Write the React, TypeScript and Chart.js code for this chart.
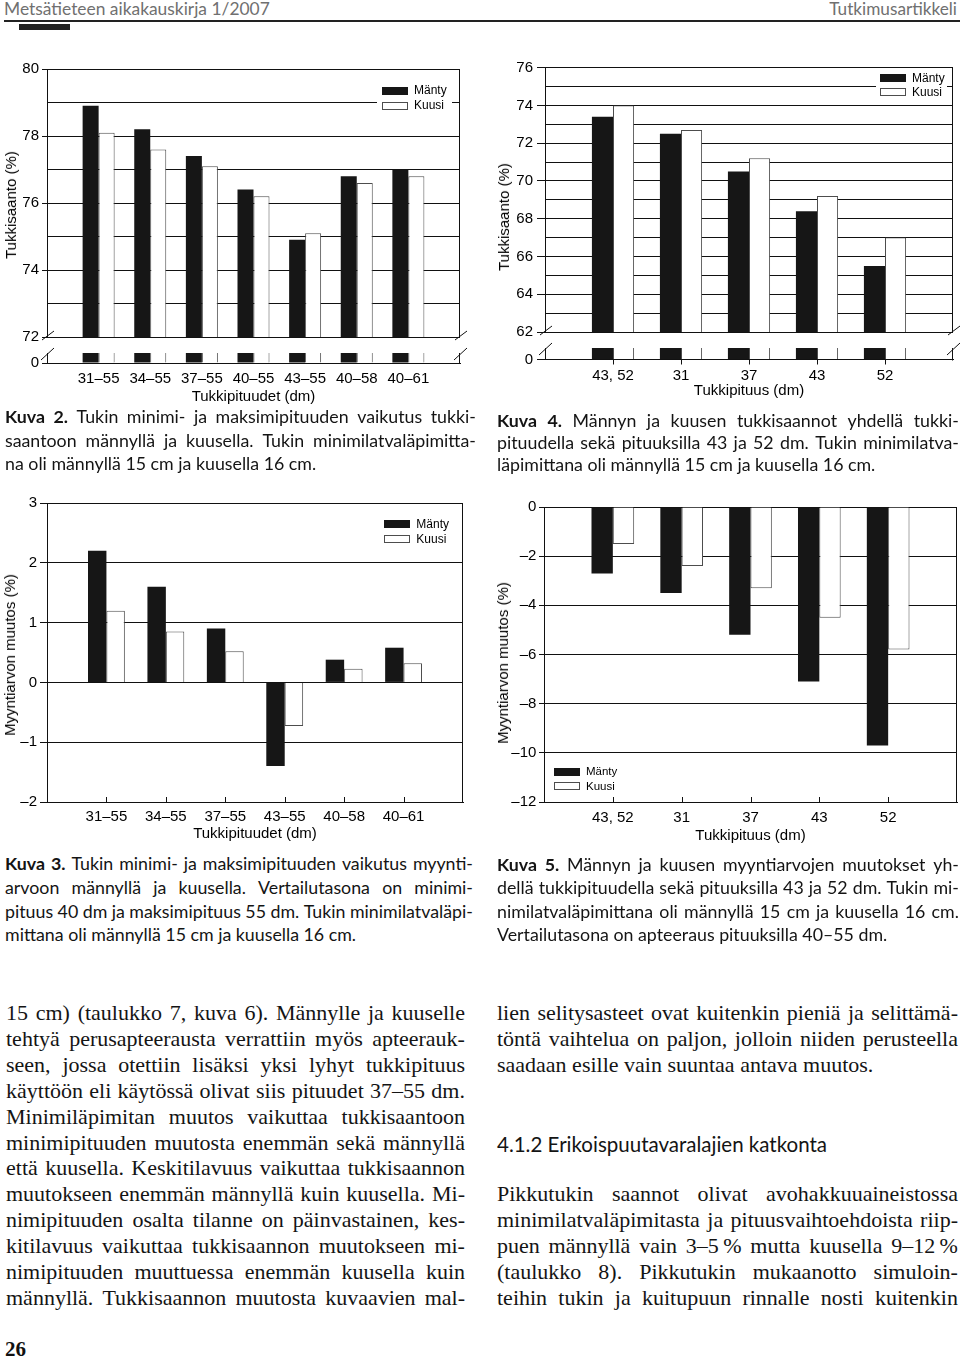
import React, { useEffect, useRef } from 'react';
import { Chart, registerables } from 'chart.js';

Chart.register(...registerables);

// ---------- data ----------
const SERIES_NAMES = ['Mänty', 'Kuusi'];

// Kuva 2 – Tukkisaanto (%) by min–max log length
const kuva2Lengths = ['31–55', '34–55', '37–55', '40–55', '43–55', '40–58', '40–61'];
const kuva2Manty = [78.9, 78.2, 77.4, 76.4, 74.9, 76.8, 77.0];
const kuva2Kuusi = [78.1, 77.6, 77.1, 76.2, 75.1, 76.6, 76.8];
const kuva2YTicks = [72, 74, 76, 78, 80];

// Kuva 4 – Tukkisaanto (%) by single log length
const kuva4Lengths = ['43, 52', '31', '37', '43', '52'];
const kuva4Manty = [73.4, 72.5, 70.5, 68.4, 65.5];
const kuva4Kuusi = [74.0, 72.7, 71.2, 69.2, 67.0];
const kuva4YTicks = [62, 64, 66, 68, 70, 72, 74, 76];

// Kuva 3 – Myyntiarvon muutos (%)
const kuva3Lengths = ['31–55', '34–55', '37–55', '43–55', '40–58', '40–61'];
const kuva3Manty = [2.2, 1.6, 0.9, -1.4, 0.38, 0.58];
const kuva3Kuusi = [1.2, 0.85, 0.52, -0.73, 0.23, 0.32];
const kuva3YTicks = [-2, -1, 0, 1, 2, 3];

// Kuva 5 – Myyntiarvon muutos (%)
const kuva5Lengths = ['43, 52', '31', '37', '43', '52'];
const kuva5Manty = [-2.7, -3.5, -5.2, -7.1, -9.7];
const kuva5Kuusi = [-1.5, -2.4, -3.3, -4.5, -5.8];
const kuva5YTicks = [-12, -10, -8, -6, -4, -2, 0];

const brokenAxisZero = [0];

// ---------- styles ----------
const MANTY_FILL = '#161616';
const KUUSI_FILL = '#ffffff';
const KUUSI_EDGE = '#4d4d4d';
const LINE = '#111111';
const FONT_SANS = '"Liberation Sans", Arial, sans-serif';
const FONT_HUM = 'Lato, "Noto Sans", sans-serif';
const FONT_SERIF = '"Liberation Serif", "Times New Roman", serif';

const fmtTick = (v: number) => (v < 0 ? '–' + Math.abs(v) : String(v));

// ---------- plugins ----------
const boxLegendPlugin = {
  id: 'boxLegend',
  afterDatasetsDraw(chart: any, _args: any, o: any) {
    if (!o || !o.show) return;
    const { ctx, chartArea } = chart;
    const bx = o.anchorX === 'left' ? chartArea.left + o.dx : chartArea.right - o.dx;
    const by = o.anchorY === 'bottom' ? chartArea.bottom - o.dy : chartArea.top + o.dy;
    ctx.save();
    if (o.bg) {
      ctx.fillStyle = '#ffffff';
      ctx.fillRect(bx + o.bg.x, by + o.bg.y, o.bg.w, o.bg.h);
    }
    ctx.font = `${o.size}px ${FONT_SANS}`;
    ctx.textBaseline = 'middle';
    ctx.textAlign = 'left';
    chart.data.datasets.forEach((d: any, i: number) => {
      const cy = by + i * o.rowGap;
      const x0 = Math.round(bx);
      const y0 = Math.round(cy - 4);
      ctx.fillStyle = d.backgroundColor;
      ctx.fillRect(x0, y0, 26, 8);
      if (d.borderWidth) {
        ctx.strokeStyle = d.borderColor;
        ctx.lineWidth = 1;
        ctx.strokeRect(x0 + 0.5, y0 + 0.5, 25, 7);
      }
      ctx.fillStyle = '#000';
      ctx.fillText(d.label, bx + 32, cy + 0.5);
    });
    ctx.restore();
  },
};

const decorPlugin = {
  id: 'decor',
  afterDatasetsDraw(chart: any, _args: any, o: any) {
    if (!o) return;
    const { ctx } = chart;
    const { left, right, top, bottom } = chart.chartArea;
    const R = Math.round(right) - 0.5;
    const B = Math.round(bottom);
    ctx.save();
    ctx.strokeStyle = LINE;
    ctx.lineWidth = 1;
    const seg = (x1: number, y1: number, x2: number, y2: number) => {
      ctx.beginPath();
      ctx.moveTo(x1, y1);
      ctx.lineTo(x2, y2);
      ctx.stroke();
    };
    if (o.right) seg(R, Math.round(top), R, B + 0.5);
    if (o.innerTicks) {
      const xs = chart.scales.x;
      const labels = chart.data.labels;
      xs.ticks.forEach((t: any, i: number) => {
        if (!labels[t.value]) return;
        const px = Math.round(xs.getPixelForTick(i)) + 0.5;
        seg(px, B, px, B - o.innerTicks);
      });
    }
    if (o.breaks === 'bottom') {
      [left, right].forEach((x: number) => seg(x - 5, bottom + 3, x + 7, bottom - 6));
    }
    if (o.breaks === 'top') {
      [left, right].forEach((x: number) => seg(x - 6, top + 7, x + 7, top - 5));
    }
    ctx.restore();
  },
};

// ---------- chart config ----------
type Spec = {
  labels: string[];
  manty: number[];
  kuusi: number[];
  yMin: number;
  yMax: number;
  yStep: number;
  yLabels: number[];
  yWidth: number;
  yTickLen: number;
  yTickPad: number;
  pad: { right: number; top: number; bottom: number };
  strip?: boolean;
  showX: boolean;
  xHeight?: number;
  xTickLen?: number;
  xLabelPad?: number;
  xTitle?: string;
  titlePadBottom?: number;
  legend?: any;
  decor?: any;
};

function buildConfig(s: Spec): any {
  const n = s.labels.length;
  const tickFont = { family: FONT_SANS, size: 15 };
  const isLabelled = (v: number) => s.yLabels.some((l) => Math.abs(l - v) < 1e-9);
  const datasets: any[] = [
    {
      label: SERIES_NAMES[0],
      data: [null, ...s.manty, null],
      backgroundColor: MANTY_FILL,
      borderColor: MANTY_FILL,
      borderWidth: 0,
    },
    {
      label: SERIES_NAMES[1],
      data: [null, ...s.kuusi, null],
      backgroundColor: KUUSI_FILL,
      borderColor: KUUSI_EDGE,
      borderWidth: 1,
    },
  ].map((d) => (s.strip ? { ...d, clip: 0 } : d));

  const x: any = s.showX
    ? {
        type: 'category',
        offset: false,
        afterFit: (sc: any) => {
          sc.height = s.xHeight;
          sc.paddingLeft = 0;
          sc.paddingRight = 0;
        },
        grid: {
          display: true,
          drawOnChartArea: false,
          drawTicks: (s.xTickLen || 0) > 0,
          tickLength: s.xTickLen || 0,
          offset: false,
          color: LINE,
          tickColor: (c: any) => (c.index > 0 && c.index <= n ? LINE : 'rgba(0,0,0,0)'),
        },
        border: { display: true, color: LINE, width: 1 },
        ticks: { autoSkip: false, maxRotation: 0, minRotation: 0, padding: s.xLabelPad, color: '#000', font: tickFont },
        title: {
          display: true,
          text: s.xTitle,
          color: '#000',
          font: tickFont,
          padding: { top: 0, bottom: s.titlePadBottom },
        },
      }
    : { type: 'category', offset: false, display: false, grid: { offset: false } };

  return {
    type: 'bar',
    data: { labels: ['', ...s.labels, ''], datasets },
    options: {
      responsive: false,
      animation: false,
      events: [],
      layout: { padding: { left: 0, right: s.pad.right, top: s.pad.top, bottom: s.pad.bottom } },
      datasets: { bar: { categoryPercentage: 0.62, barPercentage: 1 } },
      plugins: {
        legend: { display: false },
        tooltip: { enabled: false },
        boxLegend: s.legend || { show: false },
        decor: s.decor || {},
      },
      scales: {
        x,
        y: {
          type: 'linear',
          min: s.yMin,
          max: s.yMax,
          beginAtZero: false,
          afterFit: (sc: any) => {
            sc.width = s.yWidth;
            sc.paddingTop = 0;
            sc.paddingBottom = 0;
          },
          ticks: {
            stepSize: s.yStep,
            autoSkip: false,
            padding: s.yTickPad,
            color: '#000',
            font: tickFont,
            callback: (v: any) => (isLabelled(+v) ? fmtTick(+v) : ''),
          },
          grid: {
            display: true,
            drawOnChartArea: !s.strip,
            drawTicks: true,
            tickLength: s.yTickLen,
            color: LINE,
            lineWidth: 1,
            tickColor: (c: any) => (c.tick && isLabelled(c.tick.value) ? LINE : 'rgba(0,0,0,0)'),
          },
          border: { display: true, color: LINE, width: 1 },
        },
      },
    },
    plugins: [boxLegendPlugin, decorPlugin],
  };
}

// ---------- panel specs ----------
const kuva2Main: Spec = {
  labels: kuva2Lengths, manty: kuva2Manty, kuusi: kuva2Kuusi,
  yMin: 72, yMax: 80, yStep: 1, yLabels: kuva2YTicks,
  yWidth: 47, yTickLen: 5, yTickPad: 3,
  pad: { right: 20, top: 9, bottom: 8 },
  showX: false,
  legend: { show: true, anchorX: 'right', dx: 78, anchorY: 'top', dy: 21.5, rowGap: 15, size: 12, bg: { x: -5, y: -8.5, w: 75, h: 30 } },
  decor: { right: true, breaks: 'bottom' },
};
const kuva2Strip: Spec = {
  labels: kuva2Lengths, manty: kuva2Manty, kuusi: kuva2Kuusi,
  yMin: 0, yMax: 1, yStep: 1, yLabels: brokenAxisZero,
  yWidth: 47, yTickLen: 5, yTickPad: 3,
  pad: { right: 20, top: 8, bottom: 0 },
  strip: true,
  showX: true, xHeight: 52, xTickLen: 0, xLabelPad: 7, xTitle: 'Tukkipituudet (dm)', titlePadBottom: 9,
  decor: { right: true, breaks: 'top' },
};
const kuva4Main: Spec = {
  labels: kuva4Lengths, manty: kuva4Manty, kuusi: kuva4Kuusi,
  yMin: 62, yMax: 76, yStep: 1, yLabels: kuva4YTicks,
  yWidth: 65, yTickLen: 8, yTickPad: 4,
  pad: { right: 7, top: 9.7, bottom: 10 },
  showX: false,
  legend: { show: true, anchorX: 'right', dx: 73, anchorY: 'top', dy: 10, rowGap: 14.5, size: 12, bg: { x: -4, y: -7.5, w: 71, h: 29 } },
  decor: { right: true, breaks: 'bottom' },
};
const kuva4Strip: Spec = {
  labels: kuva4Lengths, manty: kuva4Manty, kuusi: kuva4Kuusi,
  yMin: 0, yMax: 1, yStep: 1, yLabels: brokenAxisZero,
  yWidth: 65, yTickLen: 8, yTickPad: 4,
  pad: { right: 7, top: 8, bottom: 0 },
  strip: true,
  showX: true, xHeight: 45.5, xTickLen: 5, xLabelPad: 2.5, xTitle: 'Tukkipituus (dm)', titlePadBottom: 5.3,
  decor: { right: true, breaks: 'top' },
};
const kuva3Panel: Spec = {
  labels: kuva3Lengths, manty: kuva3Manty, kuusi: kuva3Kuusi,
  yMin: -2, yMax: 3, yStep: 1, yLabels: kuva3YTicks,
  yWidth: 47, yTickLen: 7, yTickPad: 3,
  pad: { right: 17, top: 8, bottom: 0 },
  showX: true, xHeight: 43, xTickLen: 0, xLabelPad: 6.3, xTitle: 'Tukkipituudet (dm)', titlePadBottom: 2,
  legend: { show: true, anchorX: 'right', dx: 78.7, anchorY: 'top', dy: 21, rowGap: 14.7, size: 12 },
  decor: { right: true, innerTicks: 5 },
};
const kuva5Panel: Spec = {
  labels: kuva5Lengths, manty: kuva5Manty, kuusi: kuva5Kuusi,
  yMin: -12, yMax: 0, yStep: 2, yLabels: kuva5YTicks,
  yWidth: 64, yTickLen: 5, yTickPad: 2.6,
  pad: { right: 3, top: 12, bottom: 0 },
  showX: true, xHeight: 45, xTickLen: 0, xLabelPad: 7.3, xTitle: 'Tukkipituus (dm)', titlePadBottom: 2,
  legend: { show: true, anchorX: 'left', dx: 10, anchorY: 'bottom', dy: 30.2, rowGap: 14.2, size: 11.5 },
  decor: { right: true, innerTicks: 5 },
};

// ---------- text ----------
type Line = { text: string; bold?: number; justify?: boolean };

const kuva2Caption: Line[] = [
  { text: 'Kuva 2. Tukin minimi- ja maksimipituuden vaikutus tukki-', bold: 2, justify: true },
  { text: 'saantoon männyllä ja kuusella. Tukin minimilatvaläpimitta-', justify: true },
  { text: 'na oli männyllä 15 cm ja kuusella 16 cm.' },
];
const kuva4Caption: Line[] = [
  { text: 'Kuva 4. Männyn ja kuusen tukkisaannot yhdellä tukki-', bold: 2, justify: true },
  { text: 'pituudella sekä pituuksilla 43 ja 52 dm. Tukin minimilatva-', justify: true },
  { text: 'läpimittana oli männyllä 15 cm ja kuusella 16 cm.' },
];
const kuva3Caption: Line[] = [
  { text: 'Kuva 3. Tukin minimi- ja maksimipituuden vaikutus myynti-', bold: 2, justify: true },
  { text: 'arvoon männyllä ja kuusella. Vertailutasona on minimi-', justify: true },
  { text: 'pituus 40 dm ja maksimipituus 55 dm. Tukin minimilatvaläpi-', justify: true },
  { text: 'mittana oli männyllä 15 cm ja kuusella 16 cm.' },
];
const kuva5Caption: Line[] = [
  { text: 'Kuva 5. Männyn ja kuusen myyntiarvojen muutokset yh-', bold: 2, justify: true },
  { text: 'dellä tukkipituudella sekä pituuksilla 43 ja 52 dm. Tukin mi-', justify: true },
  { text: 'nimilatvaläpimittana oli männyllä 15 cm ja kuusella 16 cm.', justify: true },
  { text: 'Vertailutasona on apteeraus pituuksilla 40–55 dm.' },
];
const leftBody: Line[] = [
  { text: '15 cm) (taulukko 7, kuva 6). Männylle ja kuuselle', justify: true },
  { text: 'tehtyä perusapteerausta verrattiin myös apteerauk-', justify: true },
  { text: 'seen, jossa otettiin lisäksi yksi lyhyt tukkipituus', justify: true },
  { text: 'käyttöön eli käytössä olivat siis pituudet 37–55 dm.', justify: true },
  { text: 'Minimiläpimitan muutos vaikuttaa tukkisaantoon', justify: true },
  { text: 'minimipituuden muutosta enemmän sekä männyllä', justify: true },
  { text: 'että kuusella. Keskitilavuus vaikuttaa tukkisaannon', justify: true },
  { text: 'muutokseen enemmän männyllä kuin kuusella. Mi-', justify: true },
  { text: 'nimipituuden osalta tilanne on päinvastainen, kes-', justify: true },
  { text: 'kitilavuus vaikuttaa tukkisaannon muutokseen mi-', justify: true },
  { text: 'nimipituuden muuttuessa enemmän kuusella kuin', justify: true },
  { text: 'männyllä. Tukkisaannon muutosta kuvaavien mal-', justify: true },
];
const rightBodyTop: Line[] = [
  { text: 'lien selitysasteet ovat kuitenkin pieniä ja selittämä-', justify: true },
  { text: 'töntä vaihtelua on paljon, jolloin niiden perusteella', justify: true },
  { text: 'saadaan esille vain suuntaa antava muutos.' },
];
const rightBodyBottom: Line[] = [
  { text: 'Pikkutukin saannot olivat avohakkuuaineistossa', justify: true },
  { text: 'minimilatvaläpimitasta ja pituusvaihtoehdoista riip-', justify: true },
  { text: 'puen männyllä vain 3–5\u202F% mutta kuusella 9–12\u202F%', justify: true },
  { text: '(taulukko 8). Pikkutukin mukaanotto simuloin-', justify: true },
  { text: 'teihin tukin ja kuitupuun rinnalle nosti kuitenkin', justify: true },
];

// ---------- components ----------
function BarPanel({ spec, left, top, width, height }: { spec: Spec; left: number; top: number; width: number; height: number }) {
  const ref = useRef<HTMLCanvasElement>(null);
  useEffect(() => {
    if (!ref.current) return;
    const chart = new Chart(ref.current, buildConfig(spec));
    return () => chart.destroy();
  }, [spec]);
  return (
    <div style={{ position: 'absolute', left, top, width, height }}>
      <canvas ref={ref} width={width} height={height} style={{ display: 'block', width, height }} />
    </div>
  );
}

function YTitle({ cx, cy, text }: { cx: number; cy: number; text: string }) {
  return (
    <div
      style={{
        position: 'absolute',
        left: cx,
        top: cy,
        transform: 'translate(-50%, -50%) rotate(-90deg)',
        fontFamily: FONT_SANS,
        fontSize: 15,
        lineHeight: '18px',
        whiteSpace: 'nowrap',
        color: '#000',
      }}
    >
      {text}
    </div>
  );
}

type Typo = { family: string; size: number; k: number; color?: string };

function TextBlock({ x, width, baselines, lines, typo }: { x: number; width: number; baselines: number[]; lines: Line[]; typo: Typo }) {
  return (
    <>
      {lines.map((ln, i) => {
        const words = ln.text.split(' ');
        const nb = ln.bold || 0;
        const base: React.CSSProperties = {
          position: 'absolute',
          left: x,
          top: baselines[i] - typo.k * typo.size,
          width,
          fontFamily: typo.family,
          fontSize: typo.size,
          lineHeight: `${typo.size}px`,
          whiteSpace: 'nowrap',
          color: typo.color || '#111',
        };
        if (ln.justify) {
          return (
            <div key={i} style={{ ...base, display: 'flex', justifyContent: 'space-between' }}>
              {words.map((w, j) => (
                <span key={j} style={{ fontWeight: j < nb ? 700 : 400 }}>{w}</span>
              ))}
            </div>
          );
        }
        return (
          <div key={i} style={base}>
            {nb > 0 && <span style={{ fontWeight: 700 }}>{words.slice(0, nb).join(' ')} </span>}
            {words.slice(nb).join(' ')}
          </div>
        );
      })}
    </>
  );
}

const steps = (start: number, step: number, count: number) => Array.from({ length: count }, (_, i) => start + i * step);

const CAPTION: Typo = { family: FONT_HUM, size: 17.8, k: 0.887, color: '#141414' };
const BODY: Typo = { family: FONT_SERIF, size: 22, k: 0.8375, color: '#141414' };

export default function App() {
  const bodyBase = steps(1020.5, 25.9, 12);
  return (
    <div style={{ position: 'absolute', left: 0, top: 0, width: 960, height: 1360, background: '#fff', overflow: 'hidden' }}>
      {/* running head */}
      <div style={{ position: 'absolute', left: 4, top: 15 - 0.887 * 17.4, fontFamily: FONT_HUM, fontSize: 17.4, lineHeight: '17.4px', color: '#707070', whiteSpace: 'nowrap' }}>
        Metsätieteen aikakauskirja 1/2007
      </div>
      <div style={{ position: 'absolute', right: 3, top: 15 - 0.887 * 17.4, fontFamily: FONT_HUM, fontSize: 17.2, lineHeight: '17.4px', color: '#707070', whiteSpace: 'nowrap' }}>
        Tutkimusartikkeli
      </div>
      <div style={{ position: 'absolute', left: 4, top: 20, width: 956, height: 2, background: '#222' }} />
      <div style={{ position: 'absolute', left: 19, top: 24, width: 51, height: 6, background: '#222' }} />

      {/* Kuva 2 */}
      <BarPanel spec={kuva2Main} left={0} top={60} width={480} height={285} />
      <BarPanel spec={kuva2Strip} left={0} top={345} width={480} height={70} />
      <YTitle cx={11} cy={205} text="Tukkisaanto (%)" />
      <TextBlock x={5} width={471} baselines={[424, 447.3, 470.7]} lines={kuva2Caption} typo={CAPTION} />

      {/* Kuva 4 */}
      <BarPanel spec={kuva4Main} left={480} top={58} width={480} height={284} />
      <BarPanel spec={kuva4Strip} left={480} top={340} width={480} height={65} />
      <YTitle cx={504} cy={216.7} text="Tukkisaanto (%)" />
      <TextBlock x={497} width={462} baselines={[427.3, 449.7, 472]} lines={kuva4Caption} typo={CAPTION} />

      {/* Kuva 3 */}
      <BarPanel spec={kuva3Panel} left={0} top={495} width={480} height={350} />
      <YTitle cx={9.7} cy={655} text="Myyntiarvon muutos (%)" />
      <TextBlock x={5} width={468} baselines={[870.7, 894.3, 918.3, 941.7]} lines={kuva3Caption} typo={CAPTION} />

      {/* Kuva 5 */}
      <BarPanel spec={kuva5Panel} left={480} top={495} width={480} height={352} />
      <YTitle cx={503.3} cy={663} text="Myyntiarvon muutos (%)" />
      <TextBlock x={497} width={462} baselines={[871.7, 895, 918.3, 941.7]} lines={kuva5Caption} typo={CAPTION} />

      {/* body text */}
      <TextBlock x={6} width={459} baselines={bodyBase} lines={leftBody} typo={BODY} />
      <TextBlock x={497} width={461} baselines={bodyBase.slice(0, 3)} lines={rightBodyTop} typo={BODY} />
      <div style={{ position: 'absolute', left: 497, top: 1151.7 - 0.887 * 20.5, fontFamily: FONT_HUM, fontSize: 20.5, lineHeight: '20.5px', color: '#141414', whiteSpace: 'nowrap' }}>
        4.1.2 Erikoispuutavaralajien katkonta
      </div>
      <TextBlock x={497} width={461} baselines={bodyBase.slice(7)} lines={rightBodyBottom} typo={BODY} />

      <div style={{ position: 'absolute', left: 5, top: 1357 - 0.8375 * 21, fontFamily: FONT_SERIF, fontWeight: 700, fontSize: 21, lineHeight: '21px', color: '#111' }}>
        26
      </div>
    </div>
  );
}
